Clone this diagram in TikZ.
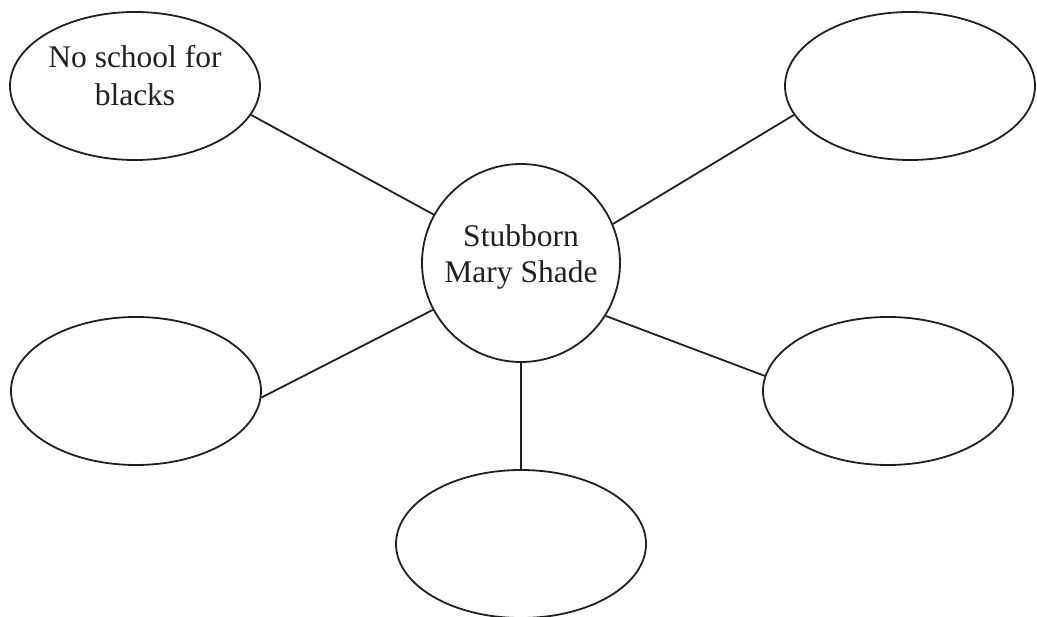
\documentclass[tikz,border=0pt]{standalone}
\usepackage{fontspec}
\setmainfont{Liberation Serif}
\usetikzlibrary{shapes.geometric}
\definecolor{ink}{RGB}{35,31,32}
\begin{document}
\begin{tikzpicture}[x=1pt,y=-1pt,
  bub/.style={draw=ink, line width=1.8pt, ellipse, minimum width=250pt, minimum height=148pt, inner sep=0pt},
  hub/.style={draw=ink, line width=1.8pt, circle, minimum size=198pt, inner sep=0pt},
  link/.style={draw=ink, line width=1.8pt},
  txt/.style={font=\fontsize{31.5}{36}\selectfont, text=ink, anchor=base, inner sep=0pt}]
\useasboundingbox (0,0) rectangle (1037,617);
\node[bub] (tl) at (135,86) {};
\node[bub] (tr) at (910,86) {};
\node[bub] (ml) at (136,391) {};
\node[bub] (mr) at (888,391) {};
\node[bub] (bt) at (521,544) {};
\node[hub] (c) at (521,263) {};
\node[txt] (t1) at (135,68) {No school for};
\node[txt] (t2) at (135,106) {blacks};
\node[txt] (c1) at (521,247) {Stubborn};
\node[txt] (c2) at (521,283) {Mary Shade};
\draw[link] (tl.-14) -- (c.151);
\draw[link] (tr.194) -- (c.23.5);
\draw[link] (ml.-3) -- (c.208);
\draw[link] (mr.173) -- (c.-32);
\draw[link] (c.south) -- (bt.north);
\end{tikzpicture}
\end{document}
